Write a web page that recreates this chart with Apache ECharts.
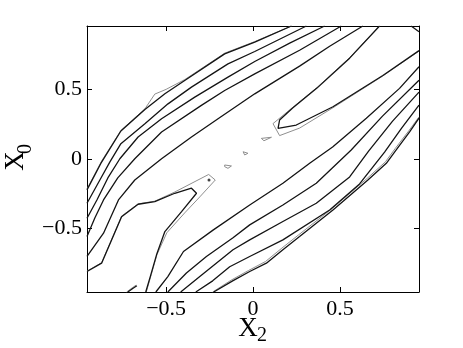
<!DOCTYPE html>
<html>
<head>
<meta charset="utf-8">
<script src="https://cdn.jsdelivr.net/npm/echarts@6/dist/echarts.min.js"></script>
<style>html,body{margin:0;padding:0;background:#fff}#c{width:463px;height:348px}</style>
</head>
<body>
<div id="c"></div>
<script>
// axis ranges and ticks
const xRange = [-0.955, 0.955];
const yRange = [-0.955, 0.955];
const tickValues = [-0.5, 0, 0.5];

// black contour lines [x2, x0]
const L1 = [[-0.955,-0.222],[-0.871,-0.022],[-0.760,0.201],[-0.622,0.356],[-0.507,0.468],[-0.393,0.564],[-0.163,0.755],[0.010,0.839],[0.221,0.955]];
const L2 = [[-0.955,-0.318],[-0.881,-0.151],[-0.824,-0.022],[-0.760,0.110],[-0.622,0.253],[-0.489,0.396],[-0.354,0.516],[-0.144,0.683],[0.010,0.772],[0.307,0.955]];
const L3 = [[-0.955,-0.425],[-0.898,-0.294],[-0.835,-0.136],[-0.766,0.002],[-0.661,0.158],[-0.526,0.289],[-0.335,0.444],[-0.144,0.588],[0.010,0.700],[0.211,0.832],[0.412,0.955]];
const L4 = [[-0.955,-0.557],[-0.910,-0.423],[-0.860,-0.294],[-0.778,-0.136],[-0.680,0.002],[-0.526,0.194],[-0.297,0.385],[-0.163,0.492],[0.010,0.611],[0.268,0.781],[0.508,0.955]];
const L5 = [[-0.955,-0.700],[-0.860,-0.533],[-0.774,-0.294],[-0.680,-0.151],[-0.526,0.002],[-0.354,0.158],[-0.201,0.289],[0.010,0.468],[0.268,0.667],[0.441,0.810],[0.632,0.955]];
const innerLoop = [[-0.955,-0.808],[-0.871,-0.748],[-0.756,-0.414],[-0.661,-0.325],[-0.565,-0.306],[-0.450,-0.246],[-0.354,-0.210],[-0.325,-0.246],[-0.411,-0.378],[-0.507,-0.521],[-0.555,-0.688],[-0.588,-0.832],[-0.617,-0.955]];
const shortSeg = [[-0.720,-0.955],[-0.690,-0.928],[-0.668,-0.910]];
const R1 = [[-0.559,-0.955],[-0.490,-0.844],[-0.400,-0.664],[-0.228,-0.509],[-0.019,-0.330],[0.172,-0.174],[0.326,-0.031],[0.458,0.086],[0.652,0.292],[0.843,0.507],[0.955,0.662]];
const R2 = [[-0.490,-0.955],[-0.383,-0.819],[-0.268,-0.700],[-0.115,-0.566],[-0.019,-0.473],[0.172,-0.330],[0.364,-0.174],[0.565,0.065],[0.745,0.308],[0.955,0.566]];
const R3 = [[-0.416,-0.955],[-0.306,-0.844],[-0.115,-0.652],[-0.019,-0.581],[0.172,-0.449],[0.364,-0.318],[0.556,-0.129],[0.665,0.057],[0.803,0.272],[0.955,0.480]];
const R4 = [[-0.329,-0.955],[-0.232,-0.875],[-0.134,-0.774],[-0.019,-0.700],[0.172,-0.581],[0.441,-0.366],[0.613,-0.179],[0.757,0.050],[0.855,0.222],[0.955,0.387]];
const R5 = [[-0.226,-0.955],[-0.117,-0.875],[-0.019,-0.808],[0.077,-0.748],[0.172,-0.652],[0.268,-0.557],[0.460,-0.366],[0.661,-0.151],[0.767,-0.031],[0.824,0.065],[0.901,0.194],[0.955,0.294]];
const vLoop = [[0.728,0.955],[0.556,0.724],[0.368,0.509],[0.228,0.366],[0.153,0.280],[0.144,0.220],[0.249,0.244],[0.460,0.375],[0.747,0.600],[0.955,0.778]];
const cornerSeg = [[0.910,0.955],[0.955,0.913]];
const blackDot = [[-0.253,-0.151]];

// gray contour lines
const gL1 = [[-0.955,-0.215],[-0.871,-0.015],[-0.760,0.205],[-0.622,0.360],[-0.565,0.466],[-0.500,0.500],[-0.393,0.570],[-0.163,0.760],[0.010,0.843],[0.221,0.955]];
const gInner = [[-0.955,-0.805],[-0.871,-0.745],[-0.756,-0.410],[-0.661,-0.322],[-0.565,-0.303],[-0.450,-0.237],[-0.255,-0.111],[-0.217,-0.151],[-0.306,-0.272],[-0.393,-0.387],[-0.496,-0.530],[-0.552,-0.685],[-0.585,-0.829],[-0.614,-0.955]];
const gShort = [[-0.727,-0.955],[-0.695,-0.925],[-0.672,-0.905]];
const gV = [[0.728,0.955],[0.556,0.728],[0.368,0.513],[0.228,0.370],[0.115,0.254],[0.153,0.168],[0.268,0.222],[0.460,0.368],[0.747,0.596],[0.955,0.775]];
const gR5 = [[-0.232,-0.955],[-0.123,-0.868],[-0.025,-0.800],[0.072,-0.736],[0.166,-0.640],[0.262,-0.545],[0.455,-0.356],[0.656,-0.140],[0.762,-0.020],[0.818,0.075],[0.896,0.202],[0.955,0.302]];
const island1 = [[0.048,0.148],[0.106,0.156],[0.063,0.131],[0.048,0.148]];
const island2 = [[-0.057,0.052],[-0.029,0.041],[-0.048,0.029],[-0.057,0.052]];
const island3 = [[-0.163,-0.043],[-0.124,-0.050],[-0.144,-0.067],[-0.163,-0.055],[-0.163,-0.043]];

const blackLines = [L1, L2, L3, L4, L5, innerLoop, shortSeg, R1, R2, R3, R4, R5, vLoop, cornerSeg];
const grayLines = [gL1, gInner, gShort, gV, gR5, island1, island2, island3];

const serif = '"Liberation Serif", "Times New Roman", serif';
const fmt = v => (v < 0 ? '\u2212' + Math.abs(v) : String(v));

function lineSeries(data, color, width, z) {
  return { type: 'line', data: data, symbol: 'none', showSymbol: false, silent: true,
    lineStyle: { color: color, width: width }, z: z, animation: false, clip: true };
}

const series = [];
grayLines.forEach(d => series.push(lineSeries(d, '#8f8f8f', 1, 2)));
blackLines.forEach(d => series.push(lineSeries(d, '#141414', 1.3, 3)));
series.push({ type: 'scatter', data: blackDot, symbolSize: 3, itemStyle: { color: '#141414' }, silent: true, z: 4, animation: false });

function axisCommon(pos, labels, isX) {
  return {
    type: 'value', position: pos,
    min: isX ? xRange[0] : yRange[0], max: isX ? xRange[1] : yRange[1],
    axisLine: { show: true, onZero: false, lineStyle: { color: '#000', width: 1 } },
    axisTick: { show: true, inside: true, length: 5, customValues: tickValues, lineStyle: { color: '#000', width: 1 } },
    axisLabel: { show: labels, customValues: tickValues, formatter: fmt, fontFamily: serif, fontSize: 22, color: '#000', margin: isX ? 6 : 5 },
    splitLine: { show: false }
  };
}

const chart = echarts.init(document.getElementById('c'), null, { renderer: 'canvas' });
chart.setOption({
  animation: false,
  backgroundColor: '#fff',
  grid: { left: 87, right: 44, top: 26, bottom: 56, containLabel: false },
  xAxis: [axisCommon('bottom', true, true), axisCommon('top', false, true)],
  yAxis: [axisCommon('left', true, false), axisCommon('right', false, false)],
  series: series,
  graphic: [
    { type: 'text', x: 248, y: 329, style: { text: 'X', font: '27px ' + serif, fill: '#000', align: 'center', verticalAlign: 'middle' } },
    { type: 'text', x: 262, y: 336, style: { text: '2', font: '20px ' + serif, fill: '#000', align: 'center', verticalAlign: 'middle' } },
    { type: 'group', x: 16, y: 161, rotation: Math.PI / 2, children: [
      { type: 'text', x: 0, y: 0, style: { text: 'X', font: '27px ' + serif, fill: '#000', align: 'center', verticalAlign: 'middle' } },
      { type: 'text', x: 12, y: 10, style: { text: '0', font: '20px ' + serif, fill: '#000', align: 'center', verticalAlign: 'middle' } }
    ] }
  ]
});
</script>
</body>
</html>
